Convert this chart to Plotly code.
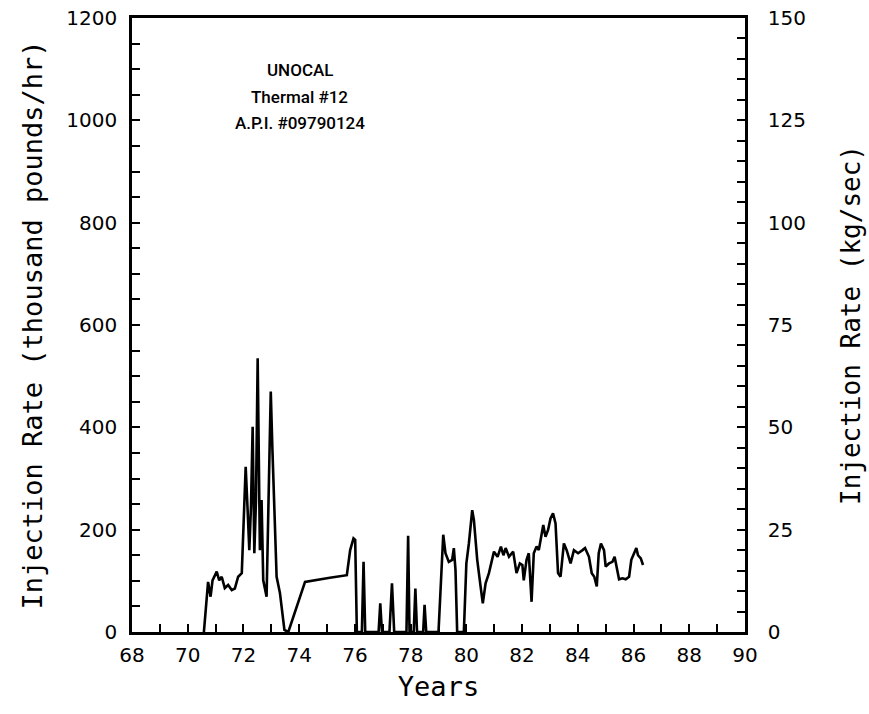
import plotly.graph_objects as go

years = [70.58, 70.73, 70.82, 70.89, 71.04, 71.13, 71.22, 71.33, 71.45, 71.58,
         71.69, 71.81, 71.94, 72.08, 72.15, 72.21, 72.27, 72.33, 72.39, 72.45,
         72.51, 72.56, 72.59, 72.65, 72.71, 72.83, 72.89, 72.98, 73.04, 73.19,
         73.31, 73.47, 73.61, 74.21, 75.10, 75.71, 75.83, 75.95, 76.01, 76.07,
         76.25, 76.31, 76.37, 76.85, 76.91, 76.97, 77.24, 77.33, 77.41, 77.85,
         77.91, 77.96, 78.11, 78.17, 78.23, 78.45, 78.50, 78.56, 79.00, 79.17,
         79.25, 79.37, 79.49, 79.55, 79.61, 79.67, 79.91, 80.00, 80.09, 80.21,
         80.27, 80.39, 80.51, 80.59, 80.69, 80.81, 80.99, 81.12, 81.24, 81.33,
         81.41, 81.53, 81.68, 81.80, 81.92, 82.01, 82.06, 82.16, 82.24, 82.34,
         82.42, 82.52, 82.60, 82.76, 82.84, 82.93, 83.02, 83.11, 83.20, 83.29,
         83.38, 83.50, 83.60, 83.74, 83.86, 84.01, 84.17, 84.26, 84.40, 84.50,
         84.59, 84.68, 84.75, 84.83, 84.94, 85.00, 85.12, 85.24, 85.32, 85.40,
         85.48, 85.60, 85.72, 85.84, 85.92, 86.02, 86.10, 86.16, 86.26, 86.34]

injection_rate = [0, 98, 69, 101, 118, 101, 108, 86, 92, 82,
                  85, 108, 115, 323, 238, 160, 245, 401, 154, 258,
                  535, 258, 160, 258, 101, 69, 225, 470, 356, 108,
                  76, 4, 0, 98, 106, 111, 160, 183, 180, 0,
                  0, 137, 0, 0, 56, 0, 0, 95, 0, 0,
                  188, 0, 0, 85, 0, 0, 53, 0, 0, 190,
                  154, 137, 141, 164, 121, 0, 0, 134, 173, 238,
                  219, 141, 89, 56, 95, 115, 157, 147, 167, 150,
                  164, 147, 157, 115, 134, 131, 101, 141, 154, 59,
                  154, 167, 160, 209, 186, 199, 222, 232, 212, 115,
                  108, 173, 160, 134, 160, 154, 160, 164, 147, 115,
                  108, 89, 154, 173, 160, 128, 134, 137, 147, 121,
                  103, 105, 103, 108, 141, 154, 164, 150, 144, 131]

annotation_lines = ["UNOCAL", "Thermal #12", "A.P.I. #09790124"]

FONT = "DejaVu Sans"
TFONT = "DejaVu Sans Mono"

fig = go.Figure()
fig.add_trace(go.Scatter(x=years, y=injection_rate, mode="lines",
                         line=dict(color="black", width=2.6),
                         showlegend=False, hoverinfo="skip"))
fig.add_trace(go.Scatter(x=[None], y=[None], yaxis="y2", mode="lines",
                         showlegend=False, hoverinfo="skip"))

tickstyle = dict(ticks="inside", ticklen=8, tickwidth=2, tickcolor="black",
                 showline=True, linecolor="black", linewidth=2.5,
                 showgrid=False, zeroline=False, automargin=False,
                 ticklabeloverflow="allow",
                 tickfont=dict(family=FONT, size=20, color="black"))

fig.update_layout(
    width=869, height=714,
    margin=dict(l=132, r=124, t=18, b=82),
    paper_bgcolor="white", plot_bgcolor="white",
    hovermode=False,
    xaxis=dict(range=[68, 90], tick0=68, dtick=2, mirror=True,
               minor=dict(dtick=1, ticks="inside", ticklen=8, tickwidth=2,
                          tickcolor="black"),
               ticklabelstandoff=3,
               title=dict(text="Years", font=dict(family=TFONT, size=27, color="black"),
                          standoff=12),
               **tickstyle),
    yaxis=dict(range=[0, 1200], tick0=0, dtick=200,
               minor=dict(dtick=50, ticks="inside", ticklen=8, tickwidth=2,
                          tickcolor="black"),
               ticklabelstandoff=8,
               title=dict(text="Injection Rate (thousand pounds/hr)",
                          font=dict(family=TFONT, size=27, color="black"),
                          standoff=16),
               **tickstyle),
    yaxis2=dict(range=[0, 150], tick0=0, dtick=25, overlaying="y", side="right",
                minor=dict(dtick=5, ticks="inside", ticklen=8, tickwidth=2,
                           tickcolor="black"),
                ticklabelstandoff=16,
                title=dict(text="Injection Rate (kg/sec)",
                           font=dict(family=TFONT, size=26, color="black"),
                           standoff=37),
                **tickstyle),
)

ys = [0.915, 0.871, 0.829]
for txt, yy in zip(annotation_lines, ys):
    fig.add_annotation(text=txt, x=0.274, y=yy, xref="paper", yref="paper",
                       showarrow=False, xanchor="center", yanchor="middle",
                       font=dict(family="Roboto", size=17, color="black", weight=500))

fig.write_html("out.html", config={"displayModeBar": False},
               post_script="document.body.style.margin='0';document.body.style.padding='0';")
